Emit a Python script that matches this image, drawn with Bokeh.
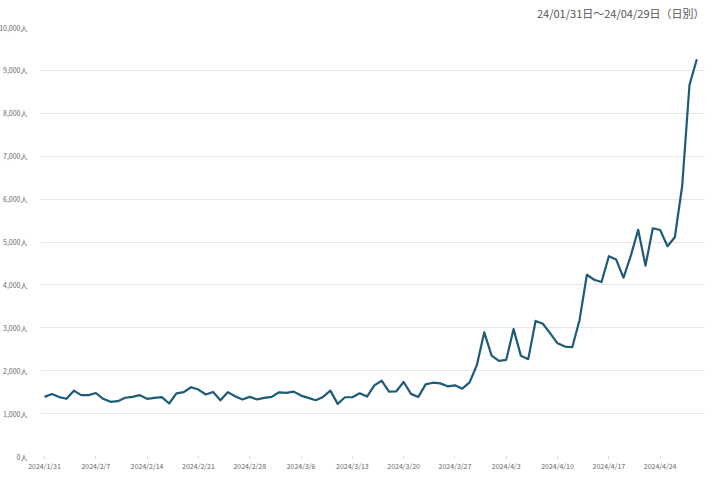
import pandas as pd
from bokeh.plotting import figure
from bokeh.models import FixedTicker, Range1d, ColumnDataSource
from bokeh.embed import file_html
from bokeh.resources import INLINE

# ---- data -------------------------------------------------------------
dates = pd.date_range("2024-01-31", "2024-04-29", freq="D")
visitors = [
    1390, 1455, 1385, 1345, 1535, 1430, 1430, 1480, 1345, 1275,
    1290, 1370, 1390, 1430, 1345, 1365, 1385, 1235, 1470, 1500,
    1615, 1560, 1445, 1505, 1310, 1500, 1405, 1330, 1390, 1330,
    1365, 1390, 1497, 1485, 1512, 1420, 1366, 1312, 1389, 1535,
    1227, 1381, 1381, 1474, 1396, 1659, 1767, 1512, 1520, 1736,
    1460, 1389, 1682, 1720, 1705, 1636, 1659, 1582, 1728, 2137,
    2894, 2353, 2230, 2253, 2970, 2346, 2269, 3160, 3095, 2870,
    2639, 2562, 2546, 3178, 4236, 4120, 4067, 4669, 4590, 4167,
    4683, 5285, 4450, 5320, 5280, 4900, 5110, 6300, 8660, 9260,
]
x_tick_labels = ["2024/1/31", "2024/2/7", "2024/2/14", "2024/2/21", "2024/2/28",
                 "2024/3/6", "2024/3/13", "2024/3/20", "2024/3/27", "2024/4/3",
                 "2024/4/10", "2024/4/17", "2024/4/24"]
y_ticks = [0, 1000, 2000, 3000, 4000, 5000, 6000, 7000, 8000, 9000, 10000]
y_tick_labels = ["0人", "1,000人", "2,000人", "3,000人", "4,000人", "5,000人",
                 "6,000人", "7,000人", "8,000人", "9,000人", "10,000人"]
title_text = "24/01/31日～24/04/29日（日別）"

# ---- build --------------------------------------------------------------
day_index = list(range(len(dates)))
date_labels = [f"{d.year}/{d.month}/{d.day}" for d in dates]
src = ColumnDataSource(dict(x=day_index, y=visitors))
x_tick_pos = [date_labels.index(t) for t in x_tick_labels]

FONT = "Noto Sans CJK JP"

p = figure(width=715, height=477, output_backend="svg", toolbar_location=None,
           x_range=Range1d(-0.55, 90.05), y_range=Range1d(0, 10000),
           min_border_left=40, min_border_right=7, min_border_top=0, min_border_bottom=0)
# pull the chart into the page margin so it fills the 715x477 window
p.styles = {"margin": "-4px -4px -4px -4px"}

p.title.text = title_text
p.title.align = "right"
p.title.offset = 0
p.title.text_font = FONT
p.title.text_font_size = "11px"
p.title.text_font_style = "normal"
p.title.text_color = "#555555"
p.title.standoff = 13

p.outline_line_color = None
p.background_fill_color = "white"
p.border_fill_color = "white"

# y axis
p.yaxis.axis_label = None
p.yaxis.ticker = FixedTicker(ticks=y_ticks)
p.yaxis.major_label_overrides = {t: l for t, l in zip(y_ticks, y_tick_labels)}
p.yaxis.axis_line_color = None
p.yaxis.major_tick_line_color = None
p.yaxis.minor_tick_line_color = None
p.yaxis.major_label_text_font = FONT
p.yaxis.major_label_text_font_size = "7px"
p.yaxis.major_label_text_color = "#666666"
p.yaxis.major_label_standoff = 7

# x axis
p.xaxis.axis_label = None
p.xaxis.ticker = FixedTicker(ticks=x_tick_pos)
p.xaxis.major_label_overrides = {t: l for t, l in zip(x_tick_pos, x_tick_labels)}
p.xaxis.axis_line_color = None
p.xaxis.major_tick_line_color = "#c8c8c8"
p.xaxis.major_tick_in = 0
p.xaxis.major_tick_out = 2
p.xaxis.minor_tick_line_color = None
p.xaxis.major_label_text_font = FONT
p.xaxis.major_label_text_font_size = "7px"
p.xaxis.major_label_text_color = "#666666"
p.xaxis.major_label_standoff = 2

p.xgrid.grid_line_color = None
p.ygrid.ticker = FixedTicker(ticks=y_ticks)
p.ygrid.grid_line_color = "#e6e6e6"
p.ygrid.grid_line_width = 1

p.line("x", "y", source=src, line_color="#1d5b79", line_width=2.2, line_join="round")

open("out.html", "w").write(file_html(p, INLINE))
